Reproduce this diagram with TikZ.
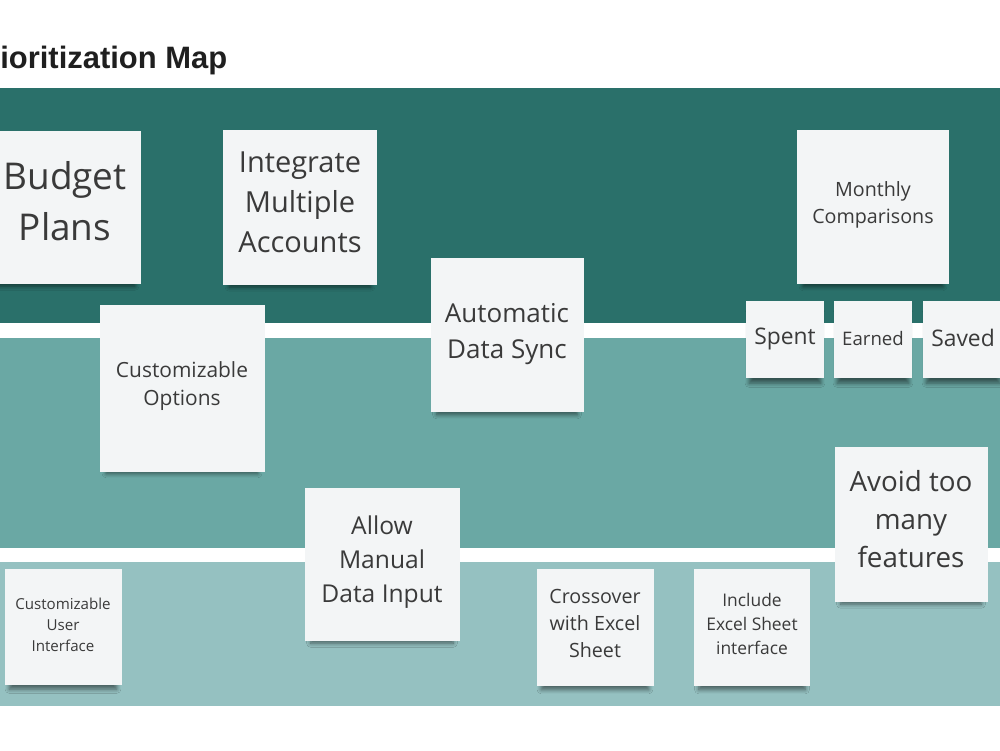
\documentclass[tikz,border=0pt]{standalone}
\usepackage{fontspec}
\setmainfont{Open Sans}
\newfontfamily\titlefont{Liberation Sans}
\usetikzlibrary{shadows.blur}

\definecolor{bandhigh}{HTML}{2A706A}
\definecolor{bandmid}{HTML}{6AA8A4}
\definecolor{bandlow}{HTML}{95C1C1}
\definecolor{notepaper}{HTML}{F3F5F6}
\definecolor{notetext}{HTML}{3A3A3A}

\newcommand{\fs}[1]{\fontsize{#1}{1.38\dimexpr#1\relax}\selectfont}

\begin{document}
\begin{tikzpicture}[x=0.2mm,y=-0.2mm,
			note/.style={fill=notepaper,draw=none,inner sep=0pt,
				blur shadow={shadow xshift=0pt,shadow yshift=-5.5pt,shadow scale=0.92,shadow opacity=50,shadow blur radius=2.5pt,shadow blur steps=6}},
			notetxt/.style={inner sep=0pt,align=center,text=notetext},
			]
			\useasboundingbox (0,0) rectangle (1000,750);
			\fill[white] (0,0) rectangle (1000,750);
			
			% bands
			\fill[bandhigh] (0,88) rectangle (1000,323);
			\fill[bandmid] (0,338) rectangle (1000,548);
			\fill[bandlow] (0,562) rectangle (1000,706);
			
			\node[anchor=base west,inner sep=0pt,font=\titlefont\bfseries\fontsize{17.6}{20}\selectfont,text=black!88] (title) at (0,68) {ioritization Map};
			
			% top band
			\node[note,minimum width=152*0.2mm,minimum height=153*0.2mm] (budget) at (65,207) {};
			\node[note,minimum width=154*0.2mm,minimum height=155*0.2mm] (integrate) at (300,207) {};
			\node[note,minimum width=152*0.2mm,minimum height=154*0.2mm] (monthly) at (873,207) {};
			
			% middle band
			\node[note,minimum width=165*0.2mm,minimum height=167*0.2mm] (options) at (182,388) {};
			\node[note,minimum width=153*0.2mm,minimum height=154*0.2mm] (sync) at (507,335) {};
			\node[note,minimum width=78*0.2mm,minimum height=77*0.2mm] (spent) at (785,339) {};
			\node[note,minimum width=78*0.2mm,minimum height=77*0.2mm] (earned) at (873,339) {};
			\node[note,minimum width=80*0.2mm,minimum height=77*0.2mm] (saved) at (963,339) {};
			\node[note,minimum width=153*0.2mm,minimum height=155*0.2mm] (avoid) at (911,524) {};
			\node[note,minimum width=155*0.2mm,minimum height=153*0.2mm] (manual) at (382,564) {};
			
			% bottom band
			\node[note,minimum width=117*0.2mm,minimum height=116*0.2mm] (userif) at (63,627) {};
			\node[note,minimum width=117*0.2mm,minimum height=117*0.2mm] (crossover) at (595,627) {};
			\node[note,minimum width=116*0.2mm,minimum height=117*0.2mm] (excel) at (752,627) {};
			
			% texts
			\node[notetxt,font=\fs{21pt}] (budget-t) at ([yshift=3.4pt]budget.center) {Budget\\Plans};
			\node[notetxt,font=\fs{16.5pt}] (integrate-t) at ([yshift=2.8pt]integrate.center) {Integrate\\Multiple\\Accounts};
			\node[notetxt,font=\fs{11.2pt}] (monthly-t) at ([yshift=1.1pt]monthly.center) {Monthly\\Comparisons};
			\node[notetxt,font=\fs{11.9pt}] (options-t) at ([yshift=1.1pt]options.center) {Customizable\\Options};
			\node[notetxt,font=\fs{14.8pt}] (sync-t) at ([yshift=0.6pt]sync.center) {Automatic\\Data Sync};
			\node[notetxt,font=\fs{13pt}] (spent-t) at (spent.center) {Spent};
			\node[notetxt,font=\fs{10.6pt}] (earned-t) at ([yshift=0.5pt]earned.center) {Earned};
			\node[notetxt,font=\fs{13pt}] (saved-t) at ([yshift=0.5pt]saved.center) {Saved};
			\node[notetxt,font=\fs{15.8pt}] (avoid-t) at ([yshift=2.8pt]avoid.center) {Avoid too\\many\\features};
			\node[notetxt,font=\fs{14pt}] (manual-t) at ([yshift=1.1pt]manual.center) {Allow\\Manual\\Data Input};
			\node[notetxt,font=\fs{8.6pt}] (userif-t) at ([yshift=1.4pt]userif.center) {Customizable\\User\\Interface};
			\node[notetxt,font=\fs{11.2pt}] (crossover-t) at ([yshift=2pt]crossover.center) {Crossover\\with Excel\\Sheet};
			\node[notetxt,font=\fs{9.9pt}] (excel-t) at ([yshift=1.7pt]excel.center) {Include\\Excel Sheet\\interface};
		\end{tikzpicture}
\end{document}
